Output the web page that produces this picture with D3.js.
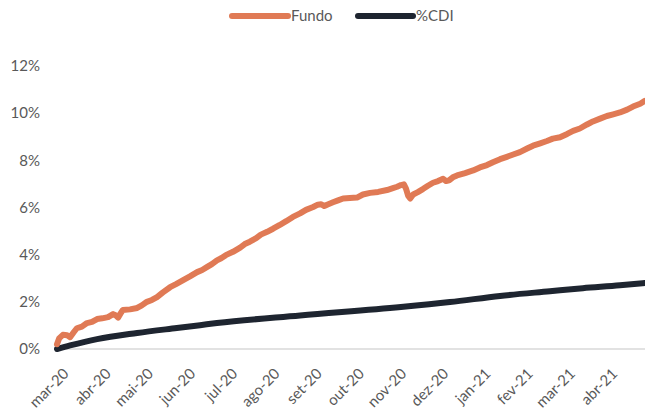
<!DOCTYPE html>
<html><head><meta charset="utf-8">
<script src="https://cdn.jsdelivr.net/npm/d3@7"></script>
<style>
html,body{margin:0;padding:0;background:#fff;}
svg text{font-family:Lato,"Open Sans",sans-serif;fill:#595959;}
</style></head>
<body><svg id="c" width="645" height="413"></svg>
<script>
// time in months since mar-20 (category positions)
const tickLabels = ["mar-20","abr-20","mai-20","jun-20","jul-20","ago-20","set-20","out-20","nov-20","dez-20","jan-21","fev-21","mar-21","abr-21"];
const yTicks = [0,2,4,6,8,10,12];
const fundoT = [0,0.05,0.14,0.24,0.31,0.40,0.47,0.59,0.71,0.83,0.95,1.07,1.21,1.33,1.40,1.45,1.52,1.56,1.73,1.90,2.01,2.13,2.25,2.37,2.51,2.68,2.82,2.99,3.15,3.32,3.44,3.55,3.67,3.79,3.89,4.00,4.17,4.34,4.45,4.57,4.72,4.83,4.98,5.12,5.28,5.43,5.59,5.76,5.90,6.07,6.18,6.26,6.33,6.40,6.54,6.66,6.78,6.94,7.11,7.25,7.42,7.61,7.82,7.96,8.06,8.15,8.22,8.27,8.32,8.37,8.44,8.55,8.67,8.79,8.91,9.03,9.15,9.22,9.29,9.38,9.48,9.67,9.86,10.02,10.19,10.33,10.50,10.66,10.81,10.97,11.14,11.28,11.45,11.61,11.75,11.92,12.09,12.23,12.39,12.56,12.70,12.87,13.03,13.18,13.34,13.51,13.65,13.82,13.93];
const fundo = [0.2,0.45,0.6,0.58,0.5,0.72,0.88,0.95,1.1,1.15,1.27,1.3,1.35,1.48,1.42,1.33,1.55,1.65,1.68,1.74,1.85,2.0,2.08,2.2,2.4,2.62,2.75,2.92,3.08,3.26,3.35,3.47,3.6,3.76,3.85,3.98,4.12,4.3,4.45,4.55,4.7,4.85,4.97,5.1,5.26,5.42,5.6,5.75,5.9,6.02,6.12,6.14,6.06,6.12,6.22,6.3,6.38,6.4,6.42,6.55,6.62,6.66,6.74,6.82,6.88,6.95,6.98,6.8,6.5,6.38,6.55,6.65,6.78,6.92,7.05,7.12,7.22,7.12,7.15,7.28,7.36,7.46,7.57,7.7,7.8,7.92,8.05,8.15,8.25,8.35,8.5,8.62,8.72,8.82,8.92,8.98,9.12,9.25,9.35,9.52,9.65,9.77,9.88,9.95,10.03,10.15,10.28,10.4,10.52];
const cdiT = [0,0.31,0.95,1.90,2.84,3.39,3.79,5.76,8.15,9.31,10.50,11.68,12.46,13.34,13.93];
const cdi  = [0,0.15,0.42,0.68,0.89,1.01,1.10,1.42,1.78,1.99,2.25,2.45,2.58,2.70,2.80];

const svg = d3.select("#c");
const x = d3.scaleLinear().domain([0,14]).range([57,57+42.2*14]);
const y = d3.scaleLinear().domain([0,12]).range([349,66]);

// baseline
svg.append("line").attr("x1",57).attr("x2",645).attr("y1",y(0)).attr("y2",y(0))
  .attr("stroke","#D9D9D9").attr("stroke-width",1.5);

// y axis labels
svg.append("g").selectAll("text").data(yTicks).join("text")
  .attr("x",40).attr("y",d=>y(d)).attr("dy","0.35em").attr("text-anchor","end")
  .attr("font-size",15).text(d=>d+"%");

// x labels
svg.append("g").selectAll("text").data(tickLabels).join("text")
  .attr("text-anchor","end").attr("font-size",15)
  .attr("transform",(d,i)=>`translate(${x(i)+9},${y(0)+22}) rotate(-45)`)
  .attr("dy","0.35em").text(d=>d);

const clip = svg.append("clipPath").attr("id","pc").append("rect")
  .attr("x",50).attr("y",40).attr("width",595).attr("height",320);

const line = d3.line().x(d=>x(d[0])).y(d=>y(d[1]));
const g = svg.append("g").attr("clip-path","url(#pc)");
g.append("path").datum(cdiT.map((t,i)=>[t,cdi[i]])).attr("d",line.curve(d3.curveMonotoneX))
  .attr("fill","none").attr("stroke","#1E2530").attr("stroke-width",6).attr("stroke-linecap","round").attr("stroke-linejoin","round");
g.append("path").datum(fundoT.map((t,i)=>[t,fundo[i]])).attr("d",d3.line().x(d=>x(d[0])).y(d=>y(d[1])))
  .attr("fill","none").attr("stroke","#E07A55").attr("stroke-width",6).attr("stroke-linecap","round").attr("stroke-linejoin","round");

// legend
const leg = [{name:"Fundo",color:"#E07A55",x0:232,x1:288,tx:291},{name:"%CDI",color:"#1E2530",x0:358,x1:413,tx:416}];
const lg = svg.append("g");
leg.forEach(l=>{
  lg.append("line").attr("x1",l.x0).attr("x2",l.x1).attr("y1",16).attr("y2",16)
    .attr("stroke",l.color).attr("stroke-width",6).attr("stroke-linecap","round");
  lg.append("text").attr("x",l.tx).attr("y",16).attr("dy","0.35em").attr("font-size",15).text(l.name);
});
</script></body></html>
